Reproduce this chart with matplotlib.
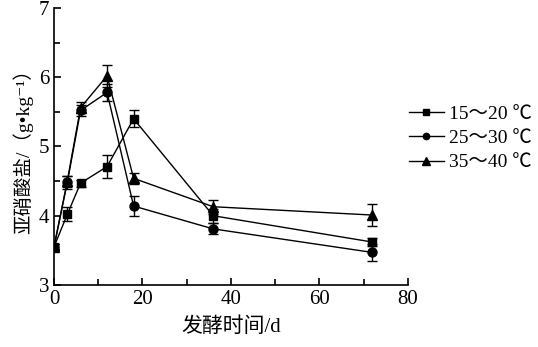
import matplotlib.pyplot as plt
from matplotlib.ticker import MultipleLocator

plt.rcParams['font.family'] = ['Liberation Serif', 'Noto Sans CJK SC', 'DejaVu Sans']

days = [0, 3, 6, 12, 18, 36, 72]
labels = ['15～20 ℃', '25～30 ℃', '35～40 ℃']
nitrite_15 = [3.55, 4.02, 4.47, 4.71, 5.40, 4.00, 3.62]
err_15 = [0.04, 0.10, 0.05, 0.17, 0.12, 0.10, 0.06]
nitrite_25 = [3.55, 4.48, 5.52, 5.78, 4.14, 3.81, 3.47]
err_25 = [0.04, 0.10, 0.08, 0.12, 0.15, 0.08, 0.12]
nitrite_35 = [3.55, 4.50, 5.56, 6.02, 4.54, 4.13, 4.01]
err_35 = [0.04, 0.08, 0.08, 0.16, 0.08, 0.10, 0.16]

fig = plt.figure(figsize=(5.38, 3.47), dpi=100)
ax = fig.add_axes([0.1004, 0.1787, 0.6576, 0.7983])

series = [(nitrite_15, err_15, 's', 6), (nitrite_25, err_25, 'o', 6.5), (nitrite_35, err_35, '^', 7.5)]
for (vals, errs, mk, ms), lab in zip(series, labels):
    ax.errorbar(days, vals, yerr=errs, color='black', marker=mk, markersize=ms,
                linewidth=1, elinewidth=1, capsize=3.5, capthick=1, label=lab)

ax.set_xlim(0, 80)
ax.set_ylim(3, 7)
ax.xaxis.set_major_locator(MultipleLocator(20))
ax.xaxis.set_minor_locator(MultipleLocator(10))
ax.yaxis.set_major_locator(MultipleLocator(1))
ax.yaxis.set_minor_locator(MultipleLocator(0.5))
ax.tick_params(which='both', direction='in', labelsize=15, width=1.2)
ax.tick_params(which='major', length=5)
ax.tick_params(which='minor', length=4)
ax.spines['top'].set_visible(False)
ax.spines['right'].set_visible(False)
ax.spines['left'].set_linewidth(1.2)
ax.spines['bottom'].set_linewidth(1.2)

ax.set_xlabel('发酵时间/d', fontsize=15, labelpad=6)
ax.set_ylabel('亚硝酸盐/（g•kg⁻¹）', fontsize=14, labelpad=4)

handles, labs = ax.get_legend_handles_labels()
handles = [h[0] for h in handles]
leg = ax.legend(handles, labs, loc='center left', bbox_to_anchor=(0.98, 0.53), frameon=False,
                fontsize=14, handlelength=1.8, handletextpad=0.3, labelspacing=0.35,
                markerscale=0.7, borderaxespad=0.0)

fig.savefig('out.png', dpi=100)
